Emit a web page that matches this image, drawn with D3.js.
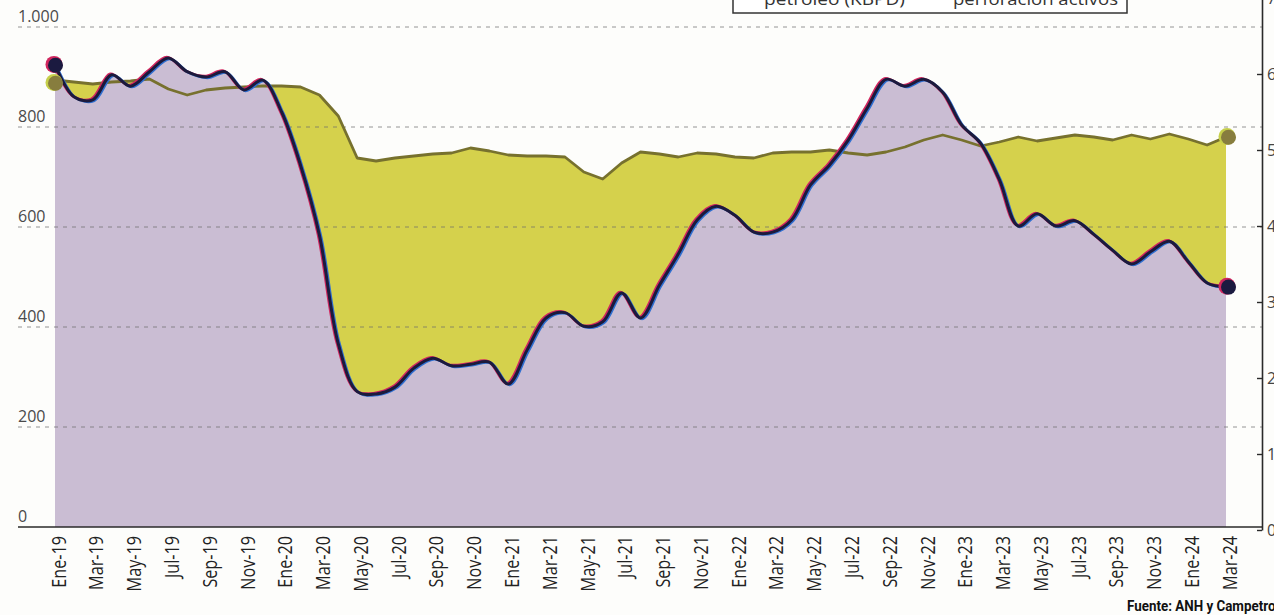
<!DOCTYPE html>
<html><head><meta charset="utf-8">
<script src="https://cdn.jsdelivr.net/npm/d3@7"></script>
<style>body{margin:0;background:#fdfdfb;overflow:hidden}svg{display:block}</style>
</head><body><svg id="c" width="1274" height="615"></svg>
<script>
const months = ["Ene-19","Feb-19","Mar-19","Abr-19","May-19","Jun-19","Jul-19","Ago-19","Sep-19","Oct-19","Nov-19","Dic-19",
"Ene-20","Feb-20","Mar-20","Abr-20","May-20","Jun-20","Jul-20","Ago-20","Sep-20","Oct-20","Nov-20","Dic-20",
"Ene-21","Feb-21","Mar-21","Abr-21","May-21","Jun-21","Jul-21","Ago-21","Sep-21","Oct-21","Nov-21","Dic-21",
"Ene-22","Feb-22","Mar-22","Abr-22","May-22","Jun-22","Jul-22","Ago-22","Sep-22","Oct-22","Nov-22","Dic-22",
"Ene-23","Feb-23","Mar-23","Abr-23","May-23","Jun-23","Jul-23","Ago-23","Sep-23","Oct-23","Nov-23","Dic-23",
"Ene-24","Feb-24","Mar-24"];
const tickLabels = ["Ene-19","Mar-19","May-19","Jul-19","Sep-19","Nov-19","Ene-20","Mar-20","May-20","Jul-20","Sep-20","Nov-20",
"Ene-21","Mar-21","May-21","Jul-21","Sep-21","Nov-21","Ene-22","Mar-22","May-22","Jul-22","Sep-22","Nov-22",
"Ene-23","Mar-23","May-23","Jul-23","Sep-23","Nov-23","Ene-24","Mar-24"];
// Producción de petróleo (KBPD) - eje izquierdo
const oil = [894,890,886,890,892,896,876,864,874,878,880,882,
882,880,864,822,738,732,738,742,746,748,758,752,
744,742,742,740,710,696,728,750,746,740,748,746,
740,738,748,750,750,754,748,744,750,760,774,784,
774,762,770,780,772,778,784,780,774,784,776,786,
776,764,780];
// Equipos de perforación activos - eje derecho
const rigs = [61.2,57.0,56.6,59.9,58.4,60.3,62.1,60.3,59.6,60.3,57.9,59.2,
55.0,48.0,38.8,24.5,18.2,17.9,18.8,21.3,22.6,21.6,21.8,22.1,
19.2,23.7,27.9,28.6,26.8,27.4,31.2,27.9,32.2,36.3,40.8,42.6,
41.4,39.2,39.2,40.8,45.4,48.0,51.3,55.5,59.3,58.4,59.3,57.6,
53.3,50.9,46.1,40.0,41.6,40.0,40.7,38.9,36.8,35.0,36.6,38.0,
35.3,32.5,32.0];
const leftTicks = [0,200,400,600,800,1000];
const rightTicks = [0,10,20,30,40,50,60,70];
const legendLabels = ["petróleo (KBPD)","perforación activos"];
const sourceText = "Fuente: ANH y Campetrol";

const svg = d3.select("#c");
const x = d3.scalePoint().domain(months).range([55,1226]);
const yL = d3.scaleLinear().domain([0,1000]).range([527,27]);
const yR = d3.scaleLinear().domain([0,70]).range([530,-2]);
const base = yL(0);
const fmt = d3.formatLocale({decimal:",",thousands:".",grouping:[3],currency:["",""]}).format(",");

const oilArea = d3.area().x((d,i)=>x(months[i])).y0(base).y1(d=>yL(d)).curve(d3.curveLinear);
const oilLine = d3.line().x((d,i)=>x(months[i])).y(d=>yL(d)).curve(d3.curveLinear);
const rigArea = d3.area().x((d,i)=>x(months[i])).y0(base).y1(d=>yR(d)).curve(d3.curveCatmullRom.alpha(0.5));
const rigLine = d3.line().x((d,i)=>x(months[i])).y(d=>yR(d)).curve(d3.curveCatmullRom.alpha(0.5));

svg.append("path").datum(oil).attr("d",oilArea).attr("fill","#d5d14c");
svg.append("path").datum(rigs).attr("d",rigArea).attr("fill","#cabdd3");

// gridlines
svg.append("g").selectAll("line").data(leftTicks.filter(t=>t>0)).join("line")
  .attr("x1",18).attr("x2",1262).attr("y1",d=>yL(d)).attr("y2",d=>yL(d))
  .attr("stroke","#6a6a6a").attr("stroke-width",1).attr("stroke-dasharray","4,5").attr("opacity",0.7);

// oil line
svg.append("path").datum(oil).attr("d",oilLine).attr("fill","none")
  .attr("stroke","#77712e").attr("stroke-width",2.8).attr("stroke-linejoin","round");

// rig line with print misregistration
svg.append("path").datum(rigs).attr("d",rigLine).attr("fill","none")
  .attr("stroke","#d0265e").attr("stroke-width",2.6).attr("transform","translate(-1.5,-0.9)");
svg.append("path").datum(rigs).attr("d",rigLine).attr("fill","none")
  .attr("stroke","#2f6fd0").attr("stroke-width",2.6).attr("transform","translate(1.5,0.9)");
svg.append("path").datum(rigs).attr("d",rigLine).attr("fill","none")
  .attr("stroke","#1c1a3c").attr("stroke-width",3);

// end dots
const dots = [
  {cx:x(months[0]), cy:yR(rigs[0]), fill:"#1b1a40", ring:"#d0265e"},
  {cx:x(months[0]), cy:yL(oil[0])+3, fill:"#877d3e", ring:"#c6cf4a"},
  {cx:x(months[months.length-1])+2, cy:yL(oil[oil.length-1]), fill:"#877d3e", ring:"#c6cf4a"},
  {cx:x(months[months.length-1])+2, cy:yR(rigs[rigs.length-1]), fill:"#1b1a40", ring:"#d0265e"}
];
const dg = svg.append("g");
dots.forEach(d=>{
  dg.append("circle").attr("cx",d.cx-1).attr("cy",d.cy-0.5).attr("r",8.5).attr("fill",d.ring);
  dg.append("circle").attr("cx",d.cx+0.5).attr("cy",d.cy+0.3).attr("r",7.5).attr("fill",d.fill);
});

// left axis labels
svg.append("g").selectAll("text").data(leftTicks).join("text")
  .attr("x",18).attr("y",d=>yL(d)-5)
  .attr("font-family","Open Sans, sans-serif").attr("font-size",16).attr("fill","#4a4a4a")
  .text(d=>fmt(d));

// bottom axis
const xAxis = d3.axisBottom(x).tickValues(tickLabels).tickSize(0).tickPadding(0);
const gx = svg.append("g").attr("transform",`translate(0,${base})`).call(xAxis);
gx.select(".domain").remove();
gx.selectAll("text")
  .attr("font-family","Open Sans, sans-serif").attr("font-size",20).attr("fill","#222")
  .attr("text-anchor","end").attr("dy","0.36em")
  .attr("transform","translate(3,9) rotate(-90) scale(0.81,1)").attr("x",0).attr("y",0);
svg.append("line").attr("x1",18).attr("x2",1263).attr("y1",base).attr("y2",base)
  .attr("stroke","#2a2a2a").attr("stroke-width",1.6);

// right axis
const yAxis = d3.axisRight(yR).tickValues(rightTicks).tickSize(-5).tickSizeOuter(0).tickPadding(5);
const gy = svg.append("g").attr("transform","translate(1262,0)").call(yAxis);
gy.select(".domain").attr("stroke","#2a2a2a").attr("stroke-width",1.6);
gy.selectAll(".tick line").attr("stroke","#2a2a2a").attr("stroke-width",1.4);
gy.selectAll("text").attr("font-family","Open Sans, sans-serif").attr("font-size",16).attr("fill","#444");

// legend (cut at top)
const lg = svg.append("g");
lg.append("rect").attr("x",733).attr("y",-22).attr("width",394).attr("height",35)
  .attr("fill","#fff").attr("stroke","#333").attr("stroke-width",1.5);
lg.append("text").attr("x",764).attr("y",5).attr("font-family","Open Sans, sans-serif")
  .attr("font-size",17).attr("fill","#333").attr("textLength",141).attr("lengthAdjust","spacingAndGlyphs").text(legendLabels[0]);
lg.append("text").attr("x",953).attr("y",5).attr("font-family","Open Sans, sans-serif")
  .attr("font-size",17).attr("fill","#333").attr("textLength",165).attr("lengthAdjust","spacingAndGlyphs").text(legendLabels[1]);

// source
svg.append("text").attr("x",1127).attr("y",611).attr("font-family","Roboto, sans-serif")
  .attr("font-weight","bold").attr("font-size",14).attr("fill","#111")
  .attr("textLength",152).attr("lengthAdjust","spacingAndGlyphs").text(sourceText);
</script></body></html>
